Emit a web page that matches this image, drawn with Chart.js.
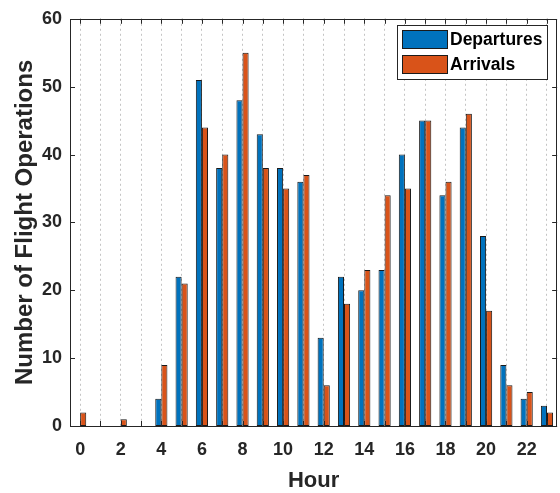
<!DOCTYPE html>
<html>
<head>
<meta charset="utf-8">
<script src="https://cdn.jsdelivr.net/npm/chart.js@4.4.1/dist/chart.umd.min.js"></script>
<style>
  html, body { margin: 0; padding: 0; background: #fff; }
  #chart { display: block; }
</style>
</head>
<body>
<canvas id="chart" width="560" height="493"></canvas>
<script>
const hours = ["0","1","2","3","4","5","6","7","8","9","10","11","12","13","14","15","16","17","18","19","20","21","22","23"];
const departures = [0, 0, 0, 0, 4, 22, 51, 38, 48, 43, 38, 36, 13, 22, 20, 23, 40, 45, 34, 44, 28, 9, 4, 3];
const arrivals = [2, 0, 1, 0, 9, 21, 44, 40, 55, 38, 35, 37, 6, 18, 23, 34, 35, 45, 36, 46, 17, 6, 5, 2];
const yTicks = [0, 10, 20, 30, 40, 50, 60];

const FONT = "'Liberation Sans', Arial, Helvetica, sans-serif";
const INK = "#262626";

// axes box, inward ticks, legend (matlab look)
const matlabAxes = {
    id: "matlabAxes",
    afterDatasetsDraw(chart) {
        const ctx = chart.ctx;
        const a = chart.chartArea;
        const x = chart.scales.x;
        const y = chart.scales.y;
        ctx.save();
        ctx.strokeStyle = INK;
        ctx.lineWidth = 1;
        ctx.beginPath();
        yTicks.forEach(v => {
            const py = Math.round(y.getPixelForValue(v)) + 0.5;
            ctx.moveTo(a.left, py); ctx.lineTo(a.left + 5, py);
            ctx.moveTo(a.right, py); ctx.lineTo(a.right - 5, py);
        });
        hours.forEach((h, i) => {
            const px = Math.round(x.getPixelForValue(i)) + 0.5;
            ctx.moveTo(px, a.top); ctx.lineTo(px, a.top + 5);
            ctx.moveTo(px, a.bottom); ctx.lineTo(px, a.bottom - 5);
        });
        ctx.stroke();
        ctx.strokeRect(Math.round(a.left) + 0.5, Math.round(a.top) + 0.5,
            Math.round(a.right - a.left) - 1, Math.round(a.bottom - a.top));

        // legend
        const lx = 397.5, ly = 25.5, lw = 150, lh = 54;
        ctx.fillStyle = "#fff";
        ctx.fillRect(lx, ly, lw, lh);
        ctx.strokeRect(lx, ly, lw, lh);
        ctx.font = "bold 17.5px " + FONT;
        ctx.textBaseline = "middle";
        chart.data.datasets.forEach((ds, i) => {
            const sy = 30.5 + i * 25;
            ctx.fillStyle = ds.backgroundColor;
            ctx.fillRect(402.5, sy, 45, 18);
            ctx.strokeStyle = "#1a1a1a";
            ctx.strokeRect(402.5, sy, 45, 18);
            ctx.fillStyle = "#000";
            ctx.fillText(ds.label, 450, sy + 10);
        });
        ctx.restore();
    }
};

new Chart(document.getElementById("chart").getContext("2d"), {
    type: "bar",
    data: {
        labels: hours,
        datasets: [
            {
                label: "Departures",
                data: departures,
                backgroundColor: "#0072BD",
                borderColor: "#1a1a1a",
                borderWidth: 1,
                borderSkipped: false,
                categoryPercentage: 0.6,
                barPercentage: 1.0
            },
            {
                label: "Arrivals",
                data: arrivals,
                backgroundColor: "#D95319",
                borderColor: "#1a1a1a",
                borderWidth: 1,
                borderSkipped: false,
                categoryPercentage: 0.6,
                barPercentage: 1.0
            }
        ]
    },
    options: {
        responsive: false,
        animation: false,
        layout: { padding: { top: 11, right: 1, left: 0, bottom: 0 } },
        plugins: {
            legend: { display: false },
            tooltip: { enabled: false }
        },
        scales: {
            x: {
                grid: { offset: false, color: "#c4c4c4", lineWidth: 1, drawTicks: false },
                border: { display: false, dash: [2, 3] },
                ticks: {
                    autoSkip: false,
                    maxRotation: 0,
                    padding: 13,
                    color: INK,
                    font: { family: FONT, size: 18, weight: "bold" },
                    callback: (v, i) => (i % 2 === 0 ? hours[i] : "")
                },
                title: {
                    display: true,
                    text: "Hour",
                    color: INK,
                    font: { family: FONT, size: 22, weight: "bold", lineHeight: 1 },
                    padding: { top: 0, bottom: 1 }
                },
                afterFit: s => { s.height = 67; }
            },
            y: {
                min: 0,
                max: 60,
                grid: { display: false, drawTicks: false },
                border: { display: false },
                ticks: {
                    stepSize: 10,
                    padding: 8,
                    color: INK,
                    font: { family: FONT, size: 18, weight: "bold" }
                },
                title: {
                    display: true,
                    text: "Number of Flight Operations",
                    color: INK,
                    font: { family: FONT, size: 24, weight: "bold", lineHeight: 1 },
                    padding: { top: 13, bottom: 0 }
                },
                afterFit: s => { s.width = 70; }
            }
        }
    },
    plugins: [matlabAxes]
});
</script>
</body>
</html>
